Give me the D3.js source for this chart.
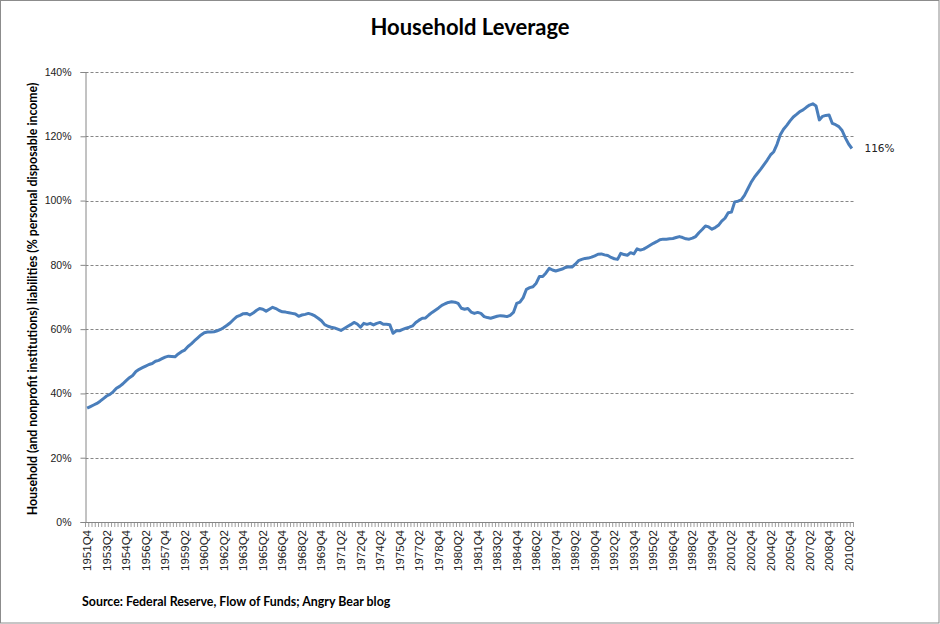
<!DOCTYPE html>
<html>
<head>
<meta charset="utf-8">
<script src="https://cdn.jsdelivr.net/npm/d3@7"></script>
<style>
  body { margin: 0; background: #fff; }
  svg { display: block; }
</style>
</head>
<body>
<div id="chart"></div>
<script>
// household liabilities as % of personal disposable income, quarterly 1951Q4 - 2010Q3
const startYear = 1951, startQuarter = 4;
const leverage = [
  35.4,
  35.9, 36.4, 36.9, 37.6,
  38.4, 39.2, 39.7, 40.5,
  41.6, 42.2, 43.0, 44.0,
  44.9, 45.6, 46.8, 47.5,
  48.0, 48.5, 49.0, 49.3,
  50.0, 50.3, 50.8, 51.3,
  51.6, 51.5, 51.4, 52.3,
  53.0, 53.5, 54.6, 55.4,
  56.4, 57.3, 58.2, 58.9,
  59.1, 59.1, 59.2, 59.5,
  59.9, 60.5, 61.2, 62.0,
  63.0, 63.9, 64.3, 64.8,
  64.9, 64.4, 65.0, 65.8,
  66.4, 66.2, 65.6, 66.2,
  66.8, 66.4, 65.8, 65.4,
  65.3, 65.1, 64.9, 64.7,
  64.0, 64.4, 64.6, 64.9,
  64.6, 64.1, 63.4, 62.6,
  61.4, 60.9, 60.6, 60.4,
  60.0, 59.6, 60.2, 60.8,
  61.4, 62.1, 61.6, 60.6,
  61.8, 61.5, 61.8, 61.3,
  61.8, 62.1, 61.5, 61.5,
  61.4, 58.7, 59.5, 59.5,
  59.9, 60.3, 60.6, 61.0,
  62.1, 62.8, 63.4, 63.5,
  64.4, 65.2, 65.9, 66.6,
  67.4, 67.9, 68.3, 68.5,
  68.4, 68.0, 66.5, 66.2,
  66.4, 65.3, 64.9, 65.2,
  64.9, 63.9, 63.6, 63.4,
  63.7, 64.0, 64.2, 64.1,
  63.9, 64.3, 65.2, 68.0,
  68.4, 69.8, 72.4, 72.9,
  73.2, 74.3, 76.4, 76.4,
  77.5, 78.9, 78.4, 78.1,
  78.4, 78.7, 79.2, 79.4,
  79.3, 80.2, 81.3, 81.7,
  82.0, 82.1, 82.4, 82.8,
  83.3, 83.4, 83.1, 82.9,
  82.3, 81.9, 81.7, 83.6,
  83.2, 83.0, 83.8, 83.4,
  85.0, 84.6, 84.9, 85.5,
  86.1, 86.7, 87.2, 87.8,
  88.0, 88.0, 88.1, 88.2,
  88.5, 88.8, 88.5, 88.1,
  88.0, 88.3, 88.8, 90.0,
  91.0, 92.1, 91.8, 91.1,
  91.6, 92.3, 93.6, 94.5,
  96.2, 96.4, 99.6, 99.8,
  100.2, 101.6, 103.6, 105.6,
  107.2, 108.5, 109.8, 111.2,
  112.6, 114.2, 115.2, 117.5,
  120.5, 122.2, 123.4, 124.8,
  126.0, 126.8, 127.7, 128.2,
  129.0, 129.7, 130.1, 129.4,
  125.1, 126.2, 126.5, 126.6,
  124.0, 123.6, 123.0, 121.8,
  119.5, 117.6, 116.2
];
const tickLabels = ["1951Q4","1953Q2","1954Q4","1956Q2","1957Q4","1959Q2","1960Q4","1962Q2","1963Q4","1965Q2",
  "1966Q4","1968Q2","1969Q4","1971Q2","1972Q4","1974Q2","1975Q4","1977Q2","1978Q4","1980Q2",
  "1981Q4","1983Q2","1984Q4","1986Q2","1987Q4","1989Q2","1990Q4","1992Q2","1993Q4","1995Q2",
  "1996Q4","1998Q2","1999Q4","2001Q2","2002Q4","2004Q2","2005Q4","2007Q2","2008Q4","2010Q2"];
const yTicks = [0, 20, 40, 60, 80, 100, 120, 140];
const title = "Household Leverage";
const yTitle = "Household  (and  nonprofit  institutions)  liabilities  (% personal disposable  income)";
const source = "Source: Federal Reserve, Flow of Funds; Angry Bear blog";
const endLabel = "116%";

// quarter names for the category axis
let quarters = [];
leverage.forEach(function(v, i){
  let q = startQuarter - 1 + i;
  quarters.push((startYear + Math.floor(q/4)) + "Q" + (q%4 + 1));
});

const W = 940, H = 624,
  plotLeft = 85.5, plotRight = 853.5, plotTop = 72, plotBottom = 522,
  axisColor = "#868686",
  lineColor = "#4A7EBB";

let svg = d3.select("#chart").append("svg").attr("width", W).attr("height", H);

svg.append("rect").attr("x", 0.5).attr("y", 0.5).attr("width", W - 1.5).attr("height", H - 1.5)
  .style("fill", "#fff").style("stroke", "#8c8c8c");

let x = d3.scaleBand().domain(quarters).range([plotLeft, plotRight]);
let y = d3.scaleLinear().domain([0, 140]).range([plotBottom, plotTop]);

// gridlines
svg.append("g").selectAll("line").data(yTicks.filter(d => d > 0)).enter().append("line")
  .attr("x1", plotLeft).attr("x2", plotRight)
  .attr("y1", d => Math.round(y(d)) + 0.5).attr("y2", d => Math.round(y(d)) + 0.5)
  .style("stroke", axisColor).style("stroke-dasharray", "3,2").style("stroke-width", 1);

// y axis
let yAxis = svg.append("g").attr("transform", "translate(" + plotLeft + ",0)")
  .call(d3.axisLeft(y).tickValues(yTicks).tickSize(5).tickPadding(9).tickFormat(d => d + "%"));
yAxis.select(".domain").style("stroke", axisColor);
yAxis.selectAll(".tick line").style("stroke", axisColor);
yAxis.selectAll("text").style("font-family", "Liberation Sans, Arial").style("font-size", "10.5px").style("fill", "#222");

// x axis line and minor ticks at category boundaries
svg.append("line").attr("x1", plotLeft).attr("x2", plotRight).attr("y1", plotBottom + 0.5).attr("y2", plotBottom + 0.5)
  .style("stroke", axisColor);
let bounds = quarters.map(q => x(q)).concat([plotRight]);
svg.append("g").selectAll("line").data(bounds).enter().append("line")
  .attr("x1", d => d).attr("x2", d => d).attr("y1", plotBottom).attr("y2", plotBottom + 5)
  .style("stroke", axisColor).style("stroke-width", 0.8);

svg.append("g").selectAll("text").data(tickLabels).enter().append("text")
  .attr("transform", d => "translate(" + (x(d) + x.bandwidth()/2) + "," + (plotBottom + 8) + ") rotate(-90)")
  .attr("text-anchor", "end").attr("dy", "0.35em")
  .style("font-family", "Liberation Sans, Arial").style("font-size", "11.5px").style("fill", "#222")
  .text(d => d);

// series
let line = d3.line().x((d, i) => x(quarters[i]) + x.bandwidth()/2).y(d => y(d));
svg.append("path").datum(leverage).attr("d", line)
  .style("fill", "none").style("stroke", lineColor).style("stroke-width", 3).style("stroke-linejoin", "round");

// end label
svg.append("text").attr("x", plotRight + 11).attr("y", y(leverage[leverage.length - 1]))
  .attr("dy", "0.35em")
  .style("font-family", "DejaVu Sans, Verdana").style("font-size", "10.5px").style("fill", "#222")
  .text(endLabel);

// titles
svg.append("text").attr("x", 470).attr("y", 35).attr("text-anchor", "middle")
  .style("font-family", "Lato").style("font-weight", "bold").style("font-size", "22px")
  .text(title);
svg.append("text").attr("transform", "translate(37," + ((plotTop + plotBottom)/2 + 2) + ") rotate(-90)")
  .attr("text-anchor", "middle")
  .style("font-family", "Lato").style("font-weight", "bold").style("font-size", "12.3px")
  .text(yTitle);
svg.append("text").attr("x", 82).attr("y", 606)
  .style("font-family", "Lato").style("font-weight", "bold").style("font-size", "12.4px")
  .text(source);
</script>
</body>
</html>
